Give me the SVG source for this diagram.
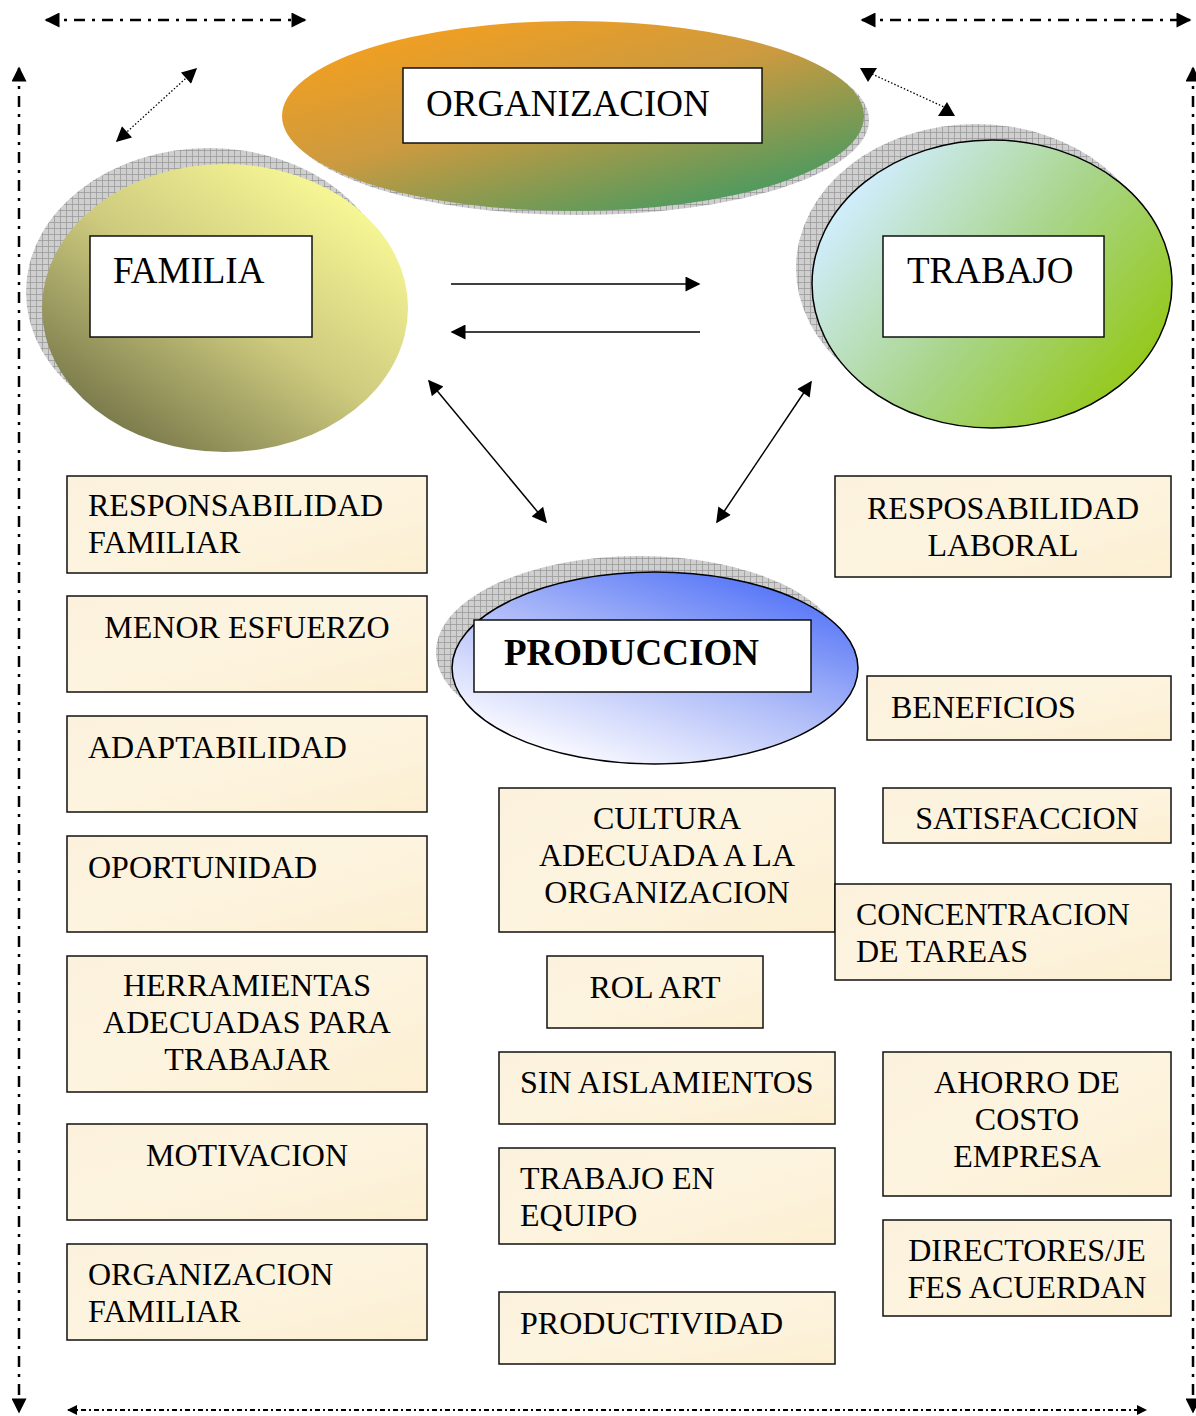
<svg xmlns="http://www.w3.org/2000/svg" width="1196" height="1416" viewBox="0 0 1196 1416">
<defs>
<style>
.t{font-family:"Liberation Serif","Times New Roman",serif;font-size:32px;fill:#000}
.big{font-family:"Liberation Serif","Times New Roman",serif;font-size:37px;fill:#000}
.box{fill:url(#parch);stroke:#111;stroke-width:1.5}
.lbl{fill:#fff;stroke:#111;stroke-width:1.5}
.dd{fill:none;stroke:#000;stroke-width:2.5;stroke-dasharray:11 7 3 7}
.dots{fill:none;stroke:#000;stroke-width:1.3;stroke-dasharray:1.5 2}
.sol{fill:none;stroke:#000;stroke-width:1.5}
</style>
<pattern id="hatch" width="6" height="6" patternUnits="userSpaceOnUse">
<rect width="6" height="6" fill="#cfcfcf"/>
<path d="M0 0.5H6M0.5 0V6" stroke="#9a9a9a" stroke-width="0.8"/>
</pattern>
<linearGradient id="parch" x1="0" y1="0" x2="1" y2="1">
<stop offset="0" stop-color="#fbf1dd"/>
<stop offset="0.5" stop-color="#fdf4df"/>
<stop offset="1" stop-color="#fcefd2"/>
</linearGradient>
<linearGradient id="gOrg" x1="0.1" y1="0.05" x2="0.85" y2="1">
<stop offset="0" stop-color="#f7a01c"/>
<stop offset="0.45" stop-color="#cc9a40"/>
<stop offset="1" stop-color="#3a9a64"/>
</linearGradient>
<linearGradient id="gFam" x1="0.85" y1="0.1" x2="0.15" y2="0.9">
<stop offset="0" stop-color="#f9f996"/>
<stop offset="0.5" stop-color="#cdca7e"/>
<stop offset="1" stop-color="#77774a"/>
</linearGradient>
<linearGradient id="gTra" x1="0.15" y1="0.15" x2="1" y2="0.7">
<stop offset="0" stop-color="#cfecf9"/>
<stop offset="0.5" stop-color="#a8d58a"/>
<stop offset="1" stop-color="#94c816"/>
</linearGradient>
<linearGradient id="gPro" x1="0.9" y1="0.05" x2="0.25" y2="0.95">
<stop offset="0" stop-color="#4a6cf7"/>
<stop offset="0.5" stop-color="#aab8f8"/>
<stop offset="1" stop-color="#fafaff"/>
</linearGradient>
<marker id="ah" viewBox="0 0 10 10" refX="9" refY="5" markerWidth="17" markerHeight="15" markerUnits="userSpaceOnUse" orient="auto-start-reverse">
<path d="M0 0L10 5L0 10z" fill="#000"/>
</marker>
<marker id="ahb" viewBox="0 0 10 10" refX="9" refY="5" markerWidth="10" markerHeight="12" markerUnits="userSpaceOnUse" orient="auto-start-reverse">
<path d="M0 0L10 5L0 10z" fill="#000"/>
</marker>
<marker id="ahs" viewBox="0 0 10 10" refX="9" refY="5" markerWidth="17" markerHeight="15" markerUnits="userSpaceOnUse" orient="auto-start-reverse">
<path d="M0 0L10 5L0 10z" fill="#000"/>
</marker>
</defs>
<rect width="1196" height="1416" fill="#fff"/>

<g id="connectors">
<line class="dd" x1="46" y1="20" x2="305" y2="20" marker-start="url(#ah)" marker-end="url(#ah)"/>
<line class="dd" x1="862" y1="20" x2="1190" y2="20" marker-start="url(#ah)" marker-end="url(#ah)"/>
<line class="dd" x1="19" y1="68" x2="19" y2="1412" marker-start="url(#ah)" marker-end="url(#ah)"/>
<line class="dd" x1="1193" y1="68" x2="1193" y2="1412" marker-start="url(#ah)" marker-end="url(#ah)"/>
<line x1="68" y1="1410" x2="1146" y2="1410" fill="none" stroke="#000" stroke-width="2" stroke-dasharray="5 3 2 3" marker-start="url(#ahb)" marker-end="url(#ahb)"/>
<line class="dots" x1="117" y1="141" x2="196" y2="69" marker-start="url(#ahs)" marker-end="url(#ahs)"/>
<line class="dots" x1="872" y1="74" x2="944" y2="107"/>
<polygon points="860,68 877,68 868,82" fill="#000"/>
<polygon points="947,102 955,116 938,116" fill="#000"/>
<line class="sol" x1="451" y1="284" x2="699" y2="284" marker-end="url(#ahs)"/>
<line class="sol" x1="700" y1="332" x2="452" y2="332" marker-end="url(#ahs)"/>
<line class="sol" x1="429" y1="381" x2="546" y2="522" marker-start="url(#ahs)" marker-end="url(#ahs)"/>
<line class="sol" x1="811" y1="382" x2="717" y2="522" marker-start="url(#ahs)" marker-end="url(#ahs)"/>
</g>

<g id="organizacion">
<ellipse cx="578" cy="120" rx="291" ry="95" fill="url(#hatch)"/>
<ellipse cx="573" cy="116" rx="291" ry="95" fill="url(#gOrg)"/>
<rect class="lbl" x="403" y="68" width="359" height="75"/>
<text class="big" x="426" y="116">ORGANIZACION</text>
</g>

<g id="familia">
<ellipse cx="209" cy="292" rx="183" ry="144" fill="url(#hatch)"/>
<ellipse cx="225" cy="308" rx="183" ry="144" fill="url(#gFam)"/>
<rect class="lbl" x="90" y="236" width="222" height="101"/>
<text class="big" x="113" y="283">FAMILIA</text>
</g>

<g id="trabajo">
<ellipse cx="976" cy="268" rx="180" ry="144" fill="url(#hatch)"/>
<ellipse cx="992" cy="284" rx="180" ry="144" fill="url(#gTra)" stroke="#000" stroke-width="1.5"/>
<rect class="lbl" x="883" y="236" width="221" height="101"/>
<text class="big" x="907" y="283">TRABAJO</text>
</g>

<g id="produccion">
<ellipse cx="639" cy="652" rx="203" ry="96" fill="url(#hatch)"/>
<ellipse cx="655" cy="668" rx="203" ry="96" fill="url(#gPro)" stroke="#000" stroke-width="1.5"/>
<rect class="lbl" x="474" y="620" width="337" height="72"/>
<text class="big" x="504" y="665" font-weight="bold">PRODUCCION</text>
</g>

<g id="responsabilidad-familiar">
<rect class="box" x="67" y="476" width="360" height="97"/>
<text class="t" x="88" y="516">RESPONSABILIDAD</text>
<text class="t" x="88" y="553">FAMILIAR</text>
</g>
<g id="menor-esfuerzo">
<rect class="box" x="67" y="596" width="360" height="96"/>
<text class="t" x="247" y="638" text-anchor="middle">MENOR ESFUERZO</text>
</g>
<g id="adaptabilidad">
<rect class="box" x="67" y="716" width="360" height="96"/>
<text class="t" x="88" y="758">ADAPTABILIDAD</text>
</g>
<g id="oportunidad">
<rect class="box" x="67" y="836" width="360" height="96"/>
<text class="t" x="88" y="878">OPORTUNIDAD</text>
</g>
<g id="herramientas">
<rect class="box" x="67" y="956" width="360" height="136"/>
<text class="t" x="247" y="996" text-anchor="middle">HERRAMIENTAS</text>
<text class="t" x="247" y="1033" text-anchor="middle">ADECUADAS PARA</text>
<text class="t" x="247" y="1070" text-anchor="middle">TRABAJAR</text>
</g>
<g id="motivacion">
<rect class="box" x="67" y="1124" width="360" height="96"/>
<text class="t" x="247" y="1166" text-anchor="middle">MOTIVACION</text>
</g>
<g id="organizacion-familiar">
<rect class="box" x="67" y="1244" width="360" height="96"/>
<text class="t" x="88" y="1285">ORGANIZACION</text>
<text class="t" x="88" y="1322">FAMILIAR</text>
</g>

<g id="cultura">
<rect class="box" x="499" y="788" width="336" height="144"/>
<text class="t" x="667" y="829" text-anchor="middle">CULTURA</text>
<text class="t" x="667" y="866" text-anchor="middle">ADECUADA A LA</text>
<text class="t" x="667" y="903" text-anchor="middle">ORGANIZACION</text>
</g>
<g id="rol-art">
<rect class="box" x="547" y="956" width="216" height="72"/>
<text class="t" x="655" y="998" text-anchor="middle">ROL ART</text>
</g>
<g id="sin-aislamientos">
<rect class="box" x="499" y="1052" width="336" height="72"/>
<text class="t" x="520" y="1093">SIN AISLAMIENTOS</text>
</g>
<g id="trabajo-equipo">
<rect class="box" x="499" y="1148" width="336" height="96"/>
<text class="t" x="520" y="1189">TRABAJO EN</text>
<text class="t" x="520" y="1226">EQUIPO</text>
</g>
<g id="productividad">
<rect class="box" x="499" y="1292" width="336" height="72"/>
<text class="t" x="520" y="1334">PRODUCTIVIDAD</text>
</g>

<g id="resposabilidad-laboral">
<rect class="box" x="835" y="476" width="336" height="101"/>
<text class="t" x="1003" y="519" text-anchor="middle">RESPOSABILIDAD</text>
<text class="t" x="1003" y="556" text-anchor="middle">LABORAL</text>
</g>
<g id="beneficios">
<rect class="box" x="867" y="676" width="304" height="64"/>
<text class="t" x="891" y="718">BENEFICIOS</text>
</g>
<g id="satisfaccion">
<rect class="box" x="883" y="788" width="288" height="55"/>
<text class="t" x="1027" y="829" text-anchor="middle">SATISFACCION</text>
</g>
<g id="concentracion">
<rect class="box" x="835" y="884" width="336" height="96"/>
<text class="t" x="856" y="925">CONCENTRACION</text>
<text class="t" x="856" y="962">DE TAREAS</text>
</g>
<g id="ahorro">
<rect class="box" x="883" y="1052" width="288" height="144"/>
<text class="t" x="1027" y="1093" text-anchor="middle">AHORRO DE</text>
<text class="t" x="1027" y="1130" text-anchor="middle">COSTO</text>
<text class="t" x="1027" y="1167" text-anchor="middle">EMPRESA</text>
</g>
<g id="directores">
<rect class="box" x="883" y="1220" width="288" height="96"/>
<text class="t" x="1027" y="1261" text-anchor="middle">DIRECTORES/JE</text>
<text class="t" x="1027" y="1298" text-anchor="middle">FES ACUERDAN</text>
</g>
</svg>
